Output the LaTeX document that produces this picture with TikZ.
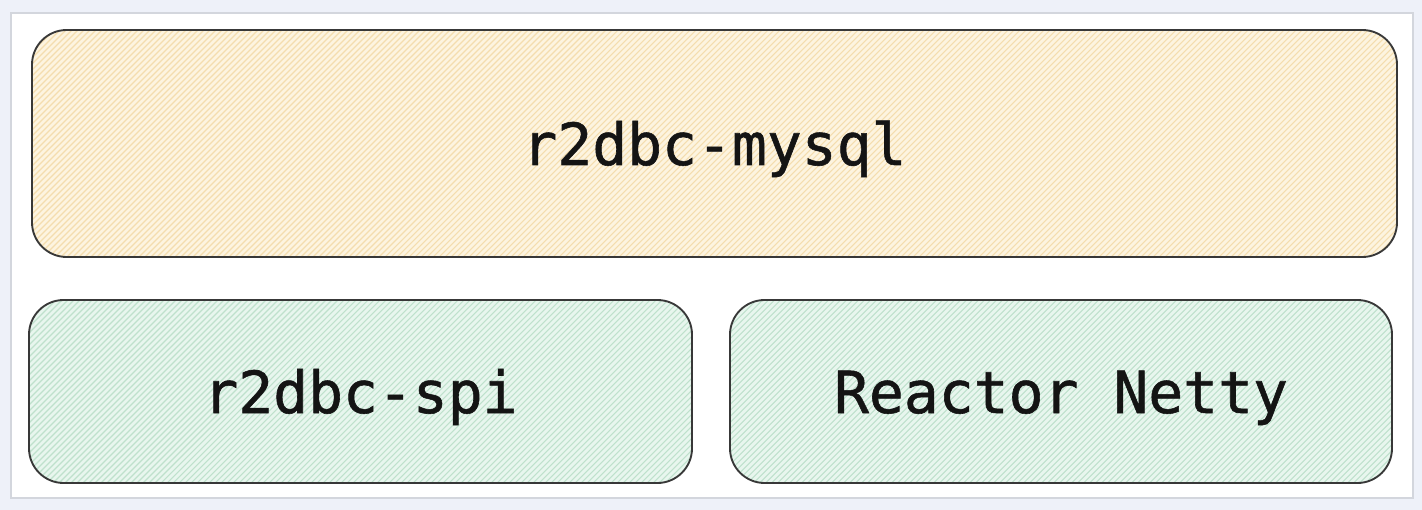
\documentclass[tikz,border=0pt]{standalone}
\usepackage{fontspec}
\setmonofont{DejaVu Sans Mono}[FakeBold=1.0]
\usetikzlibrary{calc}
\definecolor{bgc}{HTML}{EEF1F9}
\definecolor{framec}{HTML}{D3D6DD}
\definecolor{yelfill}{HTML}{FDF4E0}
\definecolor{yelhatch}{HTML}{F4DDAE}
\definecolor{grnfill}{HTML}{E8F6EE}
\definecolor{grnhatch}{HTML}{BFE1CC}
\definecolor{strokec}{HTML}{383838}
\begin{document}
\begin{tikzpicture}[x=0.75pt,y=-0.75pt,
  box/.style={draw=strokec, line width=1.4pt, rounded corners=26pt, inner sep=0pt, shape=rectangle},
  hatched/.style 2 args={fill=#1, path picture={
      \foreach \s in {-900,-894,...,900}
        \draw[#2, line width=0.8pt]
          ($(path picture bounding box.center)+(\s-150,150)$) -- ++(300,-300);
    }},
  labeltext/.style={anchor=base, inner sep=0pt, font=\ttfamily\fontsize{43.5}{50}\selectfont, text=black!92}
]
\useasboundingbox (0,0) rectangle (1422,510);
\fill[bgc] (0,0) rectangle (1422,510);
\draw[framec, line width=1.3pt, fill=white] (11,13) rectangle (1413,498);

\node[box, hatched={yelfill}{yelhatch}, minimum width=1023.75pt, minimum height=170.25pt] (mysql) at (714.5,143.5) {};
\node[box, hatched={grnfill}{grnhatch}, minimum width=497.25pt, minimum height=137.25pt] (spi) at (360.5,391.5) {};
\node[box, hatched={grnfill}{grnhatch}, minimum width=496.5pt, minimum height=137.25pt] (netty) at (1061,391.5) {};

\node[labeltext] (mysqltext) at ($(mysql.center)+(0,21.5)$) {r2dbc-mysql};
\node[labeltext] (spitext) at ($(spi.center)+(0,21.5)$) {r2dbc-spi};
\node[labeltext] (nettytext) at ($(netty.center)+(0,21.5)$) {Reactor Netty};
\end{tikzpicture}
\end{document}
